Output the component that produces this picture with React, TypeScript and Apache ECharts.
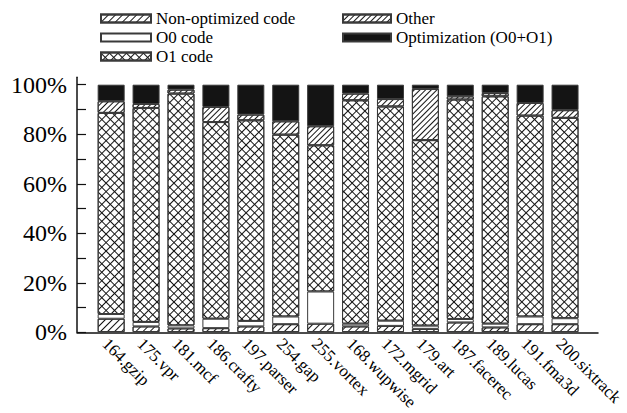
import { useEffect, useRef } from 'react';
import * as echarts from 'echarts';

// SPEC CPU2000 benchmarks and the share of time spent in each kind of code (%)
const categories = [
  '164.gzip', '175.vpr', '181.mcf', '186.crafty', '197.parser', '254.gap', '255.vortex',
  '168.wupwise', '172.mgrid', '179.art', '187.facerec', '189.lucas', '191.fma3d', '200.sixtrack',
];
const nonOptimized = [5.4, 2.3, 1.5, 1.6, 2.3, 3.2, 3.4, 2.3, 2.5, 1.3, 3.9, 1.9, 3.2, 3.2];
const o0Code = [1.9, 1.8, 1.2, 3.8, 2.2, 3.1, 13.0, 1.1, 2.1, 1.3, 1.4, 1.5, 3.1, 2.4];
const o1Code = [81.3, 86.5, 93.7, 79.5, 81.1, 73.5, 59.1, 90.3, 86.6, 75.0, 88.7, 91.9, 81.2, 81.0];
const other = [4.7, 1.6, 1.6, 6.1, 2.3, 5.4, 7.7, 2.7, 3.0, 20.7, 1.3, 1.3, 5.1, 3.1];
const optimization = [6.7, 7.8, 2.0, 9.0, 12.1, 14.8, 16.8, 3.6, 5.8, 1.7, 4.7, 3.4, 7.4, 10.3];

const yTickValues = [0, 10, 20, 30, 40, 50, 60, 70, 80, 90, 100];
const yLabelValues = [0, 20, 40, 60, 80, 100];

const SERIF = '"Liberation Serif", "Times New Roman", Times, serif';
const INK = '#141414';
const EDGE = '#3a3a3a';

// diagonal "////" hatching
const hatch = (gap: number) => ({
  symbol: 'rect',
  symbolSize: 1,
  color: INK,
  backgroundColor: '#ffffff',
  dashArrayX: [[10, 0]],
  dashArrayY: [1, gap],
  rotation: -Math.PI / 4,
});

// diamond cross-hatching
const crossHatch = {
  symbol: 'rect',
  symbolSize: 1,
  color: INK,
  backgroundColor: '#ffffff',
  dashArrayX: [[6, 0], [1, 5]],
  dashArrayY: [1, 0, 5, 0],
  rotation: Math.PI / 4,
};

const stackedBar = (name: string, data: number[], itemStyle: Record<string, unknown>) => ({
  type: 'bar',
  name,
  data,
  stack: 'total',
  xAxisIndex: 0,
  yAxisIndex: 0,
  barWidth: 27,
  itemStyle: { borderColor: EDGE, borderWidth: 1, ...itemStyle },
  emphasis: { disabled: true },
});

const legendBase = {
  orient: 'vertical',
  top: 10,
  padding: 0,
  itemHeight: 8,
  itemGap: 2,
  icon: 'rect',
  selectedMode: false,
  textStyle: { fontFamily: SERIF, fontSize: 17, color: '#000' },
};
const axisLineStyle = { color: '#111', width: 1.5 };

export default function App() {
  const ref = useRef<HTMLDivElement>(null);

  useEffect(() => {
    if (!ref.current) return;
    const chart = echarts.init(ref.current, undefined, { renderer: 'svg' });
    chart.setOption({
      animation: false,
      backgroundColor: '#ffffff',
      legend: [
        {
          ...legendBase,
          left: 100,
          itemWidth: 50,
          data: ['Non-optimized code', 'O0 code', 'O1 code'],
        },
        {
          ...legendBase,
          left: 342,
          itemWidth: 48,
          data: ['Other', 'Optimization (O0+O1)'],
        },
      ],
      grid: [
        { left: 93.7, right: 44.5, top: 84.7, bottom: 80.7 },
        { left: 77, right: 29, top: 77.3, bottom: 80.7 },
      ],
      xAxis: [
        {
          gridIndex: 0,
          type: 'category',
          data: categories,
          axisLine: { show: false },
          axisTick: { show: false },
          axisLabel: {
            interval: 0,
            rotate: -45,
            align: 'left',
            verticalAlign: 'top',
            margin: 3,
            fontFamily: SERIF,
            fontSize: 17,
            color: '#000',
          },
        },
        {
          gridIndex: 1,
          type: 'value',
          min: 0,
          max: 1,
          axisLine: { show: true, lineStyle: axisLineStyle },
          axisTick: { show: false },
          axisLabel: { show: false },
          splitLine: { show: false },
        },
      ],
      yAxis: [
        { gridIndex: 0, type: 'value', min: 0, max: 100, show: false },
        {
          gridIndex: 1,
          type: 'value',
          min: 0,
          max: 103,
          axisLine: { show: true, lineStyle: axisLineStyle },
          axisTick: {
            show: true,
            inside: true,
            length: 9,
            customValues: yTickValues,
            lineStyle: { color: '#111', width: 1.2 },
          },
          axisLabel: {
            customValues: yLabelValues,
            formatter: (v: number) => `${v}%`,
            margin: 10,
            fontFamily: SERIF,
            fontSize: 24,
            color: '#000',
          },
          splitLine: { show: false },
        },
      ],
      series: [
        stackedBar('Non-optimized code', nonOptimized, { color: '#ffffff', decal: hatch(4) }),
        stackedBar('O0 code', o0Code, { color: '#ffffff' }),
        stackedBar('O1 code', o1Code, { color: '#ffffff', decal: crossHatch }),
        stackedBar('Other', other, { color: '#ffffff', decal: hatch(3) }),
        stackedBar('Optimization (O0+O1)', optimization, { color: INK }),
      ],
    });
    return () => chart.dispose();
  }, []);

  return (
    <div
      ref={ref}
      style={{ position: 'fixed', left: 0, top: 0, width: 627, height: 413, background: '#fff' }}
    />
  );
}
